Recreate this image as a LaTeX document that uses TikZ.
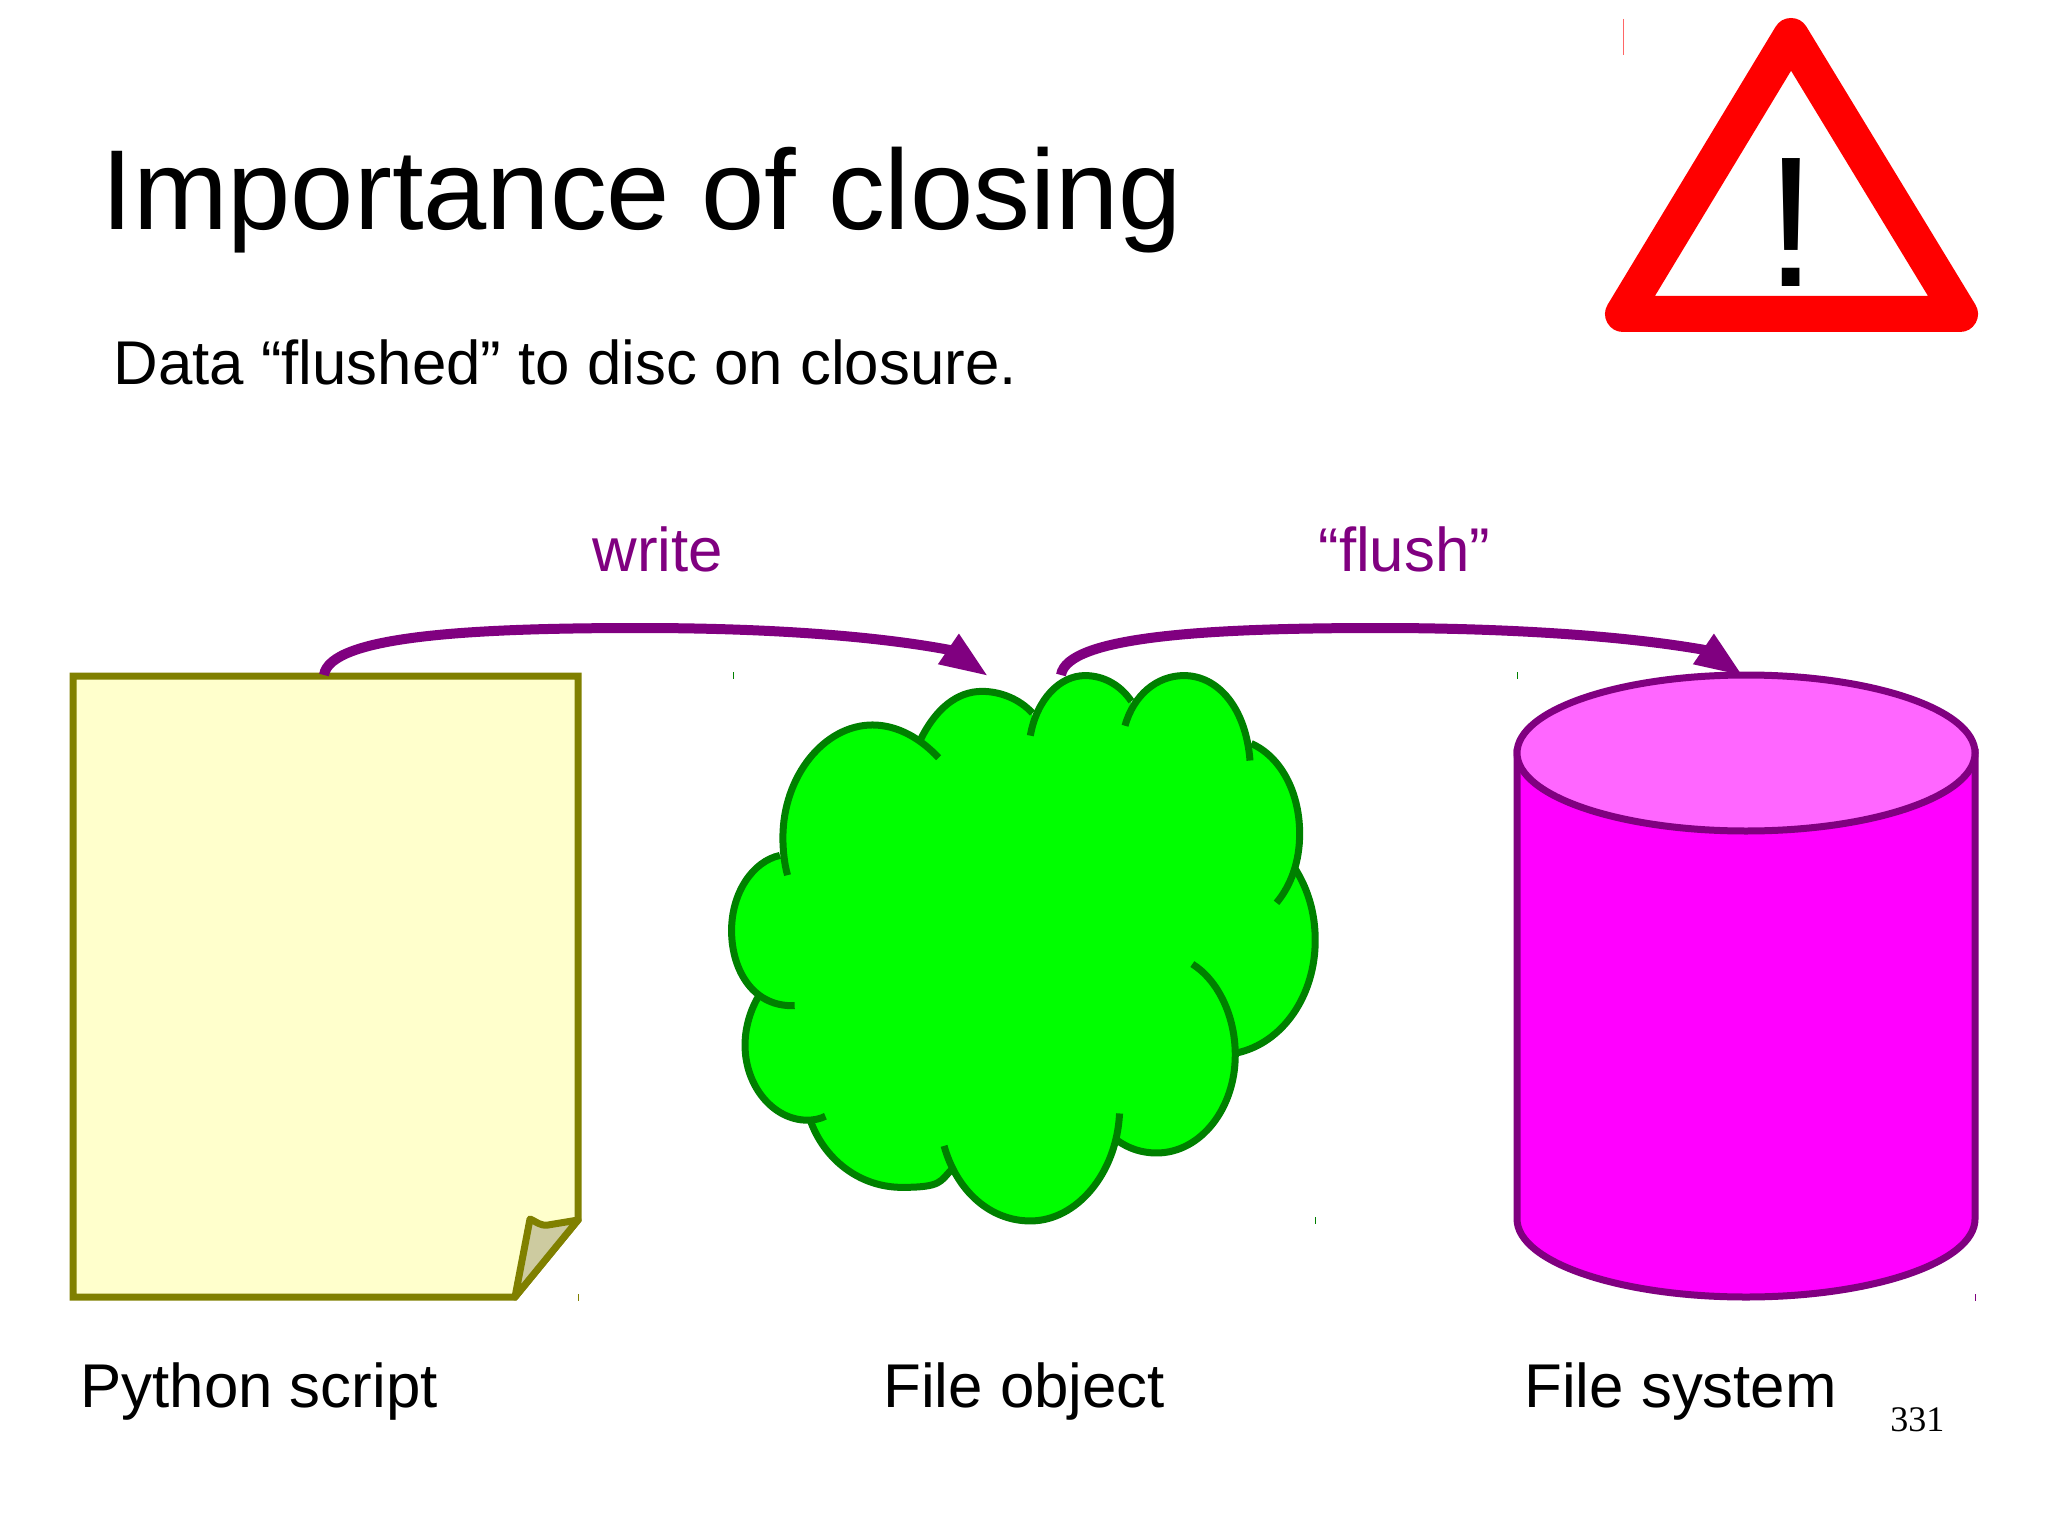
\documentclass[tikz,border=0pt]{standalone}
\usepackage{fontspec}
\setmainfont{Liberation Sans}
\newfontfamily\numfont{Liberation Serif}
\usetikzlibrary{arrows.meta}
\definecolor{docfill}{HTML}{FFFFCC}
\definecolor{docline}{HTML}{808000}
\definecolor{foldfill}{HTML}{CDCBA0}
\definecolor{cloudfill}{HTML}{00FF00}
\definecolor{cloudline}{HTML}{008000}
\definecolor{cylside}{HTML}{FF00FF}
\definecolor{cyltop}{HTML}{FF66FF}
\definecolor{plum}{HTML}{800080}
\tikzset{
  titletext/.style={anchor=base west,inner sep=0pt,font=\fontsize{56.85}{60}\selectfont},
  bodytext/.style={anchor=base west,inner sep=0pt,font=\fontsize{30.9}{34}\selectfont},
  flowtext/.style={bodytext,text=plum},
  flowarrow/.style={draw=plum,line width=5pt,-{Triangle[length=24pt,width=17pt]}},
  lobe/.style={draw=cloudline,line width=3.5pt},
  tick/.style={line width=.5pt}
}
\begin{document}
\begin{tikzpicture}[x=0.5pt,y=-0.5pt]
\useasboundingbox (0,0) rectangle (2048,1535);
\fill[white] (0,0) rectangle (2048,1535);
% warning sign
\coordinate (warnTop) at (1791,36);
\coordinate (warnLeft) at (1623,314);
\coordinate (warnRight) at (1960,314);
\draw[red,fill=white,line width=18pt,line join=round] (warnTop) -- (warnRight) -- (warnLeft) -- cycle;
\node[anchor=base,inner sep=0pt,font=\fontsize{93}{94}\selectfont] (warnMark) at (1791,287) {!};
% texts
\node[titletext] (title) at (101,230) {Importance of closing};
\node[bodytext] (subtitle) at (113,384) {Data “flushed” to disc on closure.};
\node[flowtext] (writeLabel) at (592,571) {write};
\node[flowtext] (flushLabel) at (1318,571) {“flush”};
\node[bodytext] (scriptLabel) at (80,1407) {Python script};
\node[bodytext] (objectLabel) at (883,1407) {File object};
\node[bodytext] (systemLabel) at (1524,1407) {File system};
\node[anchor=base west,inner sep=0pt,font=\numfont\fontsize{18}{20}\selectfont] (pageNum) at (1890,1431) {331};
% document
\coordinate (docNW) at (73,676);
\coordinate (docNE) at (578,676);
\coordinate (docFoldR) at (578,1220);
\coordinate (docFoldB) at (515,1297);
\coordinate (docSW) at (73,1297);
\draw[docline,fill=docfill,line width=3.5pt,line join=miter] (docNW) -- (docNE) -- (docFoldR) -- (docFoldB) -- (docSW) -- cycle;
\draw[docline,fill=foldfill,line width=3.5pt,line join=round] (docFoldB) -- (530,1219) .. controls (537,1222) and (540,1226) .. (548,1225) -- (docFoldR) -- cycle;
% cylinder
\draw[plum,fill=cylside,line width=3.5pt] (1517,752) -- (1517,1219) arc[start angle=180,end angle=0,x radius=229,y radius=78] -- (1975,752) -- cycle;
\draw[plum,fill=cyltop,line width=3.5pt] (1746,753) ellipse[x radius=229,y radius=78];
% cloud
\begin{scope}[shift={(700,640)},x=0.2104pt,y=-0.1976pt]
\fill[cloudfill] (208,595) .. controls (200,565) and (197,530) .. (197,500) .. controls (197,345) and (295,215) .. (410,215) .. controls (470,215) and (525,250) .. (567,298)
 -- (525,250) .. controls (560,175) and (610,130) .. (670,130) .. controls (715,130) and (760,150) .. (790,185)
 -- (785,242) .. controls (800,150) and (855,90) .. (915,90) .. controls (960,90) and (1000,115) .. (1025,155)
 -- (1010,217) .. controls (1030,140) and (1085,90) .. (1150,90) .. controls (1230,90) and (1297,170) .. (1307,305)
 -- (1310,262) .. controls (1380,295) and (1425,385) .. (1425,490) .. controls (1425,560) and (1405,620) .. (1370,665)
 -- (1415,580) .. controls (1447,635) and (1462,695) .. (1462,760) .. controls (1462,900) and (1385,1020) .. (1275,1045)
 -- (1170,820) .. controls (1230,860) and (1272,950) .. (1272,1050) .. controls (1272,1185) and (1190,1298) .. (1085,1298) .. controls (1050,1298) and (1018,1287) .. (990,1265)
 -- (997,1198) .. controls (990,1350) and (895,1470) .. (785,1470) .. controls (690,1470) and (610,1395) .. (580,1280)
 -- (598,1340) .. controls (570,1370) and (575,1385) .. (480,1385) .. controls (380,1385) and (295,1315) .. (262,1215)
 -- (298,1205) .. controls (285,1212) and (270,1215) .. (255,1215) .. controls (175,1215) and (107,1130) .. (107,1025) .. controls (107,980) and (120,935) .. (140,900)
 -- (225,925) .. controls (130,930) and (75,840) .. (75,735) .. controls (75,640) and (125,560) .. (190,545) -- cycle;
\draw[lobe] (208,595) .. controls (200,565) and (197,530) .. (197,500) .. controls (197,345) and (295,215) .. (410,215) .. controls (470,215) and (525,250) .. (567,298);
\draw[lobe] (525,250) .. controls (560,175) and (610,130) .. (670,130) .. controls (715,130) and (760,150) .. (790,185);
\draw[lobe] (785,242) .. controls (800,150) and (855,90) .. (915,90) .. controls (960,90) and (1000,115) .. (1025,155);
\draw[lobe] (1010,217) .. controls (1030,140) and (1085,90) .. (1150,90) .. controls (1230,90) and (1297,170) .. (1307,305);
\draw[lobe] (1310,262) .. controls (1380,295) and (1425,385) .. (1425,490) .. controls (1425,560) and (1405,620) .. (1370,665);
\draw[lobe] (1415,580) .. controls (1447,635) and (1462,695) .. (1462,760) .. controls (1462,900) and (1385,1020) .. (1275,1045);
\draw[lobe] (1170,820) .. controls (1230,860) and (1272,950) .. (1272,1050) .. controls (1272,1185) and (1190,1298) .. (1085,1298) .. controls (1050,1298) and (1018,1287) .. (990,1265);
\draw[lobe] (997,1198) .. controls (990,1350) and (895,1470) .. (785,1470) .. controls (690,1470) and (610,1395) .. (580,1280);
\draw[lobe] (598,1340) .. controls (570,1370) and (575,1385) .. (480,1385) .. controls (380,1385) and (295,1315) .. (262,1215);
\draw[lobe] (298,1205) .. controls (285,1212) and (270,1215) .. (255,1215) .. controls (175,1215) and (107,1130) .. (107,1025) .. controls (107,980) and (120,935) .. (140,900);
\draw[lobe] (225,925) .. controls (130,930) and (75,840) .. (75,735) .. controls (75,640) and (125,560) .. (190,545);
\end{scope}
% connectors
\coordinate (writeStart) at (324,675);
\coordinate (writeTurn) at (950,650);
\coordinate (writeEnd) at (988,676);
\coordinate (flushStart) at (1061,675);
\coordinate (flushTurn) at (1705,650);
\coordinate (flushEnd) at (1743,676);
\draw[flowarrow] (writeStart) .. controls (330,636) and (470,628) .. (640,628) .. controls (760,628) and (870,635) .. (writeTurn) -- (writeEnd);
\draw[flowarrow] (flushStart) .. controls (1067,636) and (1210,628) .. (1380,628) .. controls (1500,628) and (1620,635) .. (flushTurn) -- (flushEnd);
% small marks
\draw[tick,cloudline] (733,672) -- (733,679);
\draw[tick,cloudline] (1517,672) -- (1517,679);
\draw[tick,cloudline] (1315,1217) -- (1315,1224);
\draw[tick,docline] (578,1294) -- (578,1301);
\draw[tick,plum] (1975,1294) -- (1975,1301);
\draw[tick,red!60] (1623,19) -- (1623,55);
\end{tikzpicture}
\end{document}
